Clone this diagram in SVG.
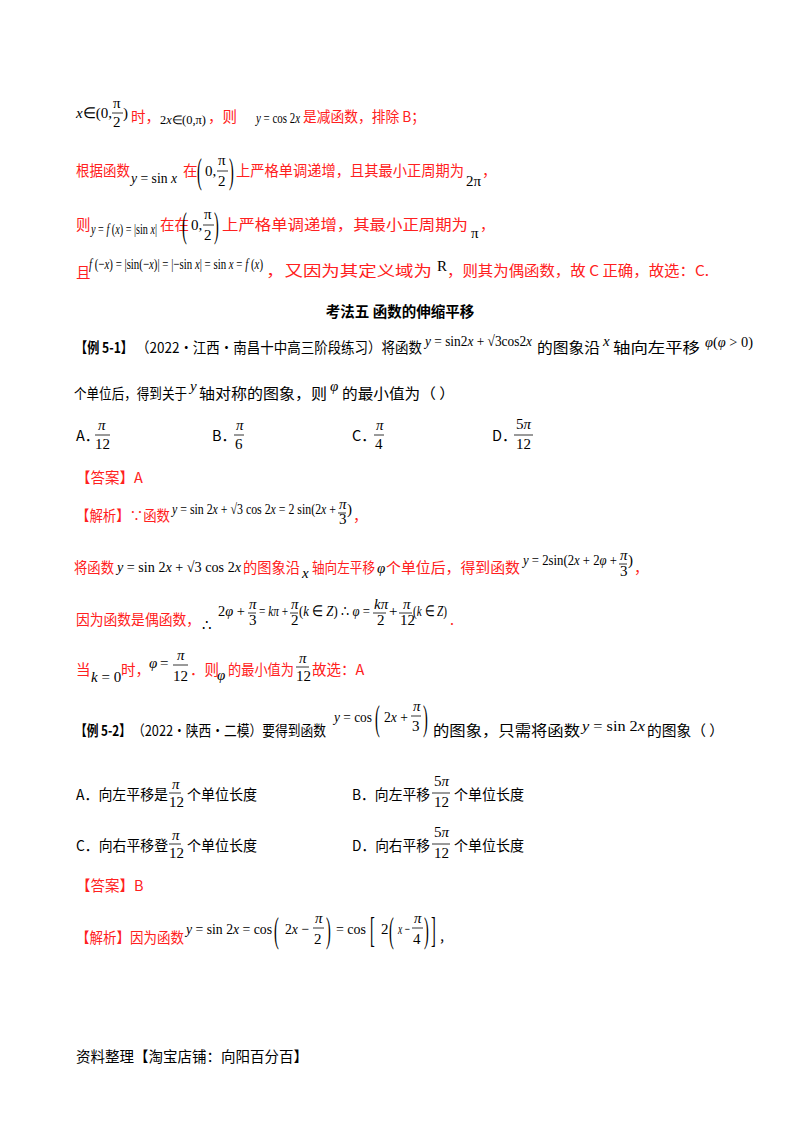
<svg xmlns="http://www.w3.org/2000/svg" width="800" height="1132" viewBox="0 0 800 1132">
<style>
text{font-family:"Noto Sans CJK SC","Liberation Sans",sans-serif;font-size:14.5px}
.r{fill:#ff2020}
.k{fill:#000}
.m{font-family:"Liberation Serif",serif;font-size:15px;fill:#000}
.mi{font-family:"Liberation Serif",serif;font-size:15px;font-style:italic;fill:#000}
.s{font-size:12px}
.b{font-weight:bold}
.p{font-family:"Liberation Serif",serif;font-size:16px;fill:#000}
line{stroke:#000;stroke-width:0.8}
</style>
<rect width="800" height="1132" fill="#fff"/>
<g id="line1">
<text x="76" y="118" class="m"><tspan font-style="italic">x</tspan>∈(0,</text>
<text x="113" y="108" class="m">π</text><line x1="112" y1="113" x2="123" y2="113"/><text x="113" y="127" class="m">2</text>
<text x="123" y="118" class="m">)</text>
<text x="131" y="122" class="r">时，</text>
<text x="160" y="124" class="m s" textLength="46" lengthAdjust="spacingAndGlyphs">2<tspan font-style="italic">x</tspan>∈(0,π)</text>
<text x="208" y="122" class="r">，则</text>
<text x="256" y="123" class="m" textLength="44" lengthAdjust="spacingAndGlyphs"><tspan font-style="italic">y</tspan> = cos 2<tspan font-style="italic">x</tspan></text>
<text x="303" y="122" class="r" textLength="122" lengthAdjust="spacingAndGlyphs">是减函数，排除 B；</text>
</g>
<g id="line2">
<text x="76" y="176" class="r" textLength="54" lengthAdjust="spacingAndGlyphs">根据函数</text>
<text x="131" y="183" class="m" textLength="46" lengthAdjust="spacingAndGlyphs"><tspan font-style="italic">y</tspan> = sin <tspan font-style="italic">x</tspan></text>
<text x="183" y="176" class="r">在</text>
<text class="p" transform="translate(197,183) scale(0.9,2.2)">(</text>
<text x="205" y="176" class="m">0,</text>
<text x="218" y="165" class="m">π</text><line x1="217" y1="171" x2="228" y2="171"/><text x="218" y="186" class="m">2</text>
<text class="p" transform="translate(229,183) scale(0.9,2.2)">)</text>
<text x="236" y="176" class="r" textLength="228" lengthAdjust="spacingAndGlyphs">上严格单调递增，且其最小正周期为</text>
<text x="466" y="186" class="m">2π</text>
<text x="482" y="176" class="r">，</text>
</g>
<g id="line3">
<text x="76" y="230" class="r">则</text>
<text x="91" y="234" class="m" textLength="66" lengthAdjust="spacingAndGlyphs"><tspan font-style="italic">y</tspan> = <tspan font-style="italic">f</tspan> (<tspan font-style="italic">x</tspan>) = |sin <tspan font-style="italic">x</tspan>|</text>
<text x="160" y="230" class="r" textLength="29" lengthAdjust="spacingAndGlyphs">在在</text>
<text class="p" transform="translate(182,237) scale(0.9,2.2)">(</text>
<text x="191" y="230" class="m">0,</text>
<text x="204" y="219" class="m">π</text><line x1="203" y1="225" x2="214" y2="225"/><text x="204" y="240" class="m">2</text>
<text class="p" transform="translate(214,237) scale(0.9,2.2)">)</text>
<text x="222" y="230" class="r" textLength="246" lengthAdjust="spacingAndGlyphs">上严格单调递增，其最小正周期为</text>
<text x="471" y="238" class="m">π</text>
<text x="480" y="230" class="r">，</text>
</g>
<g id="line4">
<text x="76" y="278" class="r">且</text>
<text x="89" y="269" class="m" textLength="174" lengthAdjust="spacingAndGlyphs"><tspan font-style="italic">f</tspan> (−<tspan font-style="italic">x</tspan>) = |sin(−<tspan font-style="italic">x</tspan>)| = |−sin <tspan font-style="italic">x</tspan>| = sin <tspan font-style="italic">x</tspan> = <tspan font-style="italic">f</tspan> (<tspan font-style="italic">x</tspan>)</text>
<text x="266" y="276" class="r" textLength="166" lengthAdjust="spacingAndGlyphs">，又因为其定义域为</text>
<text x="437" y="271" class="m">R</text>
<text x="447" y="276" class="r" textLength="262" lengthAdjust="spacingAndGlyphs">，则其为偶函数，故 C 正确，故选：C.</text>
</g>
<text x="400" y="317" class="k b" text-anchor="middle">考法五  函数的伸缩平移</text>
<g id="ex51">
<text x="75" y="353" class="k b" textLength="58" lengthAdjust="spacingAndGlyphs">【例 5-1】</text>
<text x="136" y="353" class="k" textLength="286" lengthAdjust="spacingAndGlyphs">（2022·江西·南昌十中高三阶段练习）将函数</text>
<text x="425" y="346" class="m" textLength="107" lengthAdjust="spacingAndGlyphs"><tspan font-style="italic">y</tspan> = sin2<tspan font-style="italic">x</tspan> + √3cos2<tspan font-style="italic">x</tspan></text>
<text x="537" y="353" class="k" textLength="63" lengthAdjust="spacingAndGlyphs">的图象沿</text>
<text x="603" y="346" class="mi">x</text>
<text x="613" y="353" class="k" textLength="87" lengthAdjust="spacingAndGlyphs">轴向左平移</text>
<text x="705" y="347" class="m" textLength="48" lengthAdjust="spacingAndGlyphs"><tspan font-style="italic">φ</tspan>(<tspan font-style="italic">φ</tspan> &gt; 0)</text>
<text x="74" y="399" class="k" textLength="113" lengthAdjust="spacingAndGlyphs">个单位后，得到关于</text>
<text x="190" y="391" class="mi">y</text>
<text x="199" y="399" class="k" textLength="128" lengthAdjust="spacingAndGlyphs">轴对称的图象，则</text>
<text x="330" y="391" class="mi">φ</text>
<text x="342" y="399" class="k" textLength="113" lengthAdjust="spacingAndGlyphs">的最小值为（      ）</text>
<text x="76" y="441" class="k">A．</text>
<text x="98" y="430" class="mi">π</text><line x1="95" y1="435" x2="110" y2="435"/><text x="95" y="449" class="m">12</text>
<text x="212" y="441" class="k">B．</text>
<text x="236" y="430" class="mi">π</text><line x1="234" y1="435" x2="244" y2="435"/><text x="235" y="449" class="m">6</text>
<text x="352" y="441" class="k">C．</text>
<text x="376" y="430" class="mi">π</text><line x1="374" y1="435" x2="384" y2="435"/><text x="375" y="449" class="m">4</text>
<text x="492" y="441" class="k">D．</text>
<text x="516" y="429" class="m">5<tspan font-style="italic">π</tspan></text><line x1="514" y1="435" x2="533" y2="435"/><text x="516" y="449" class="m">12</text>
<text x="76" y="483" class="r">【答案】A</text>
<text x="76" y="521" class="r" textLength="94" lengthAdjust="spacingAndGlyphs">【解析】∵函数</text>
<text x="172" y="514" class="m" font-size="13" textLength="164" lengthAdjust="spacingAndGlyphs"><tspan font-style="italic">y</tspan> = sin 2<tspan font-style="italic">x</tspan> + √3 cos 2<tspan font-style="italic">x</tspan> = 2 sin(2<tspan font-style="italic">x</tspan> + </text>
<text x="339" y="509" class="mi" font-size="12">π</text><line x1="338" y1="513" x2="346" y2="513"/><text x="339" y="524" class="m" font-size="12">3</text>
<text x="347" y="514" class="m" font-size="13">)</text>
<text x="353" y="521" class="r">，</text>
<text x="74" y="573" class="r" textLength="40" lengthAdjust="spacingAndGlyphs">将函数</text>
<text x="117" y="572" class="m" textLength="124" lengthAdjust="spacingAndGlyphs"><tspan font-style="italic">y</tspan> = sin 2<tspan font-style="italic">x</tspan> + √3 cos 2<tspan font-style="italic">x</tspan></text>
<text x="243" y="573" class="r" textLength="57" lengthAdjust="spacingAndGlyphs">的图象沿</text>
<text x="302" y="578" class="mi">x</text>
<text x="312" y="573" class="r" textLength="63" lengthAdjust="spacingAndGlyphs">轴向左平移</text>
<text x="377" y="573" class="mi">φ</text>
<text x="386" y="573" class="r" textLength="134" lengthAdjust="spacingAndGlyphs">个单位后，得到函数</text>
<text x="523" y="565" class="m" font-size="13" textLength="94" lengthAdjust="spacingAndGlyphs"><tspan font-style="italic">y</tspan> = 2sin(2<tspan font-style="italic">x</tspan> + 2<tspan font-style="italic">φ</tspan> + </text>
<text x="620" y="560" class="mi" font-size="12">π</text><line x1="619" y1="564" x2="627" y2="564"/><text x="620" y="576" class="m" font-size="12">3</text>
<text x="628" y="565" class="m" font-size="13">)</text>
<text x="634" y="573" class="r">，</text>
<text x="76" y="625" class="r" textLength="124" lengthAdjust="spacingAndGlyphs">因为函数是偶函数，</text>
<text x="202" y="630" class="m">∴</text>
<text x="218" y="616" class="m" font-size="13" textLength="27" lengthAdjust="spacingAndGlyphs">2<tspan font-style="italic">φ</tspan> + </text>
<text x="249" y="609" class="mi" font-size="12">π</text><line x1="248" y1="613" x2="256" y2="613"/><text x="249" y="625" class="m" font-size="12">3</text>
<text x="259" y="616" class="m" font-size="13" textLength="29" lengthAdjust="spacingAndGlyphs">= <tspan font-style="italic">kπ</tspan> + </text>
<text x="291" y="609" class="mi" font-size="12">π</text><line x1="290" y1="613" x2="298" y2="613"/><text x="291" y="625" class="m" font-size="12">2</text>
<text x="299" y="616" class="m" font-size="13" textLength="71" lengthAdjust="spacingAndGlyphs">(<tspan font-style="italic">k</tspan> ∈ <tspan font-style="italic">Z</tspan>) ∴ <tspan font-style="italic">φ</tspan> = </text>
<text x="374" y="609" class="mi" font-size="12">kπ</text><line x1="373" y1="613" x2="386" y2="613"/><text x="377" y="625" class="m" font-size="12">2</text>
<text x="389" y="616" class="m" font-size="13">+</text>
<text x="403" y="609" class="mi" font-size="12">π</text><line x1="399" y1="613" x2="412" y2="613"/><text x="400" y="625" class="m" font-size="12">12</text>
<text x="413" y="616" class="m" font-size="13" textLength="34" lengthAdjust="spacingAndGlyphs">(<tspan font-style="italic">k</tspan> ∈ <tspan font-style="italic">Z</tspan>)</text>
<text x="450" y="625" class="r">.</text>
<text x="76" y="675" class="r">当</text>
<text x="91" y="682" class="m"><tspan font-style="italic">k</tspan> = 0</text>
<text x="121" y="675" class="r">时，</text>
<text x="149" y="668" class="mi">φ</text><text x="160" y="668" class="m">=</text>
<text x="177" y="660" class="mi">π</text><line x1="173" y1="665" x2="188" y2="665"/><text x="173" y="681" class="m">12</text>
<text x="190" y="675" class="r">．则</text>
<text x="217" y="680" class="mi">φ</text>
<text x="228" y="675" class="r" textLength="66" lengthAdjust="spacingAndGlyphs">的最小值为</text>
<text x="299" y="663" class="mi" font-size="13">π</text><line x1="296" y1="667" x2="309" y2="667"/><text x="296" y="681" class="m" font-size="13">12</text>
<text x="312" y="675" class="r">故选：A</text>
</g>
<g id="ex52">
<text x="75" y="736" class="k b" textLength="56" lengthAdjust="spacingAndGlyphs">【例 5-2】</text>
<text x="132" y="736" class="k" textLength="194" lengthAdjust="spacingAndGlyphs">（2022·陕西·二模）要得到函数</text>
<text x="334" y="722" class="m" textLength="38" lengthAdjust="spacingAndGlyphs"><tspan font-style="italic">y</tspan> = cos</text>
<text class="p" transform="translate(375,730) scale(0.9,2.2)">(</text>
<text x="384" y="722" class="m" textLength="24" lengthAdjust="spacingAndGlyphs">2<tspan font-style="italic">x</tspan> +</text>
<text x="413" y="711" class="mi">π</text><line x1="411" y1="716" x2="421" y2="716"/><text x="412" y="731" class="m">3</text>
<text class="p" transform="translate(423,730) scale(0.9,2.2)">)</text>
<text x="433" y="736" class="k" textLength="147" lengthAdjust="spacingAndGlyphs">的图象，只需将函数</text>
<text x="582" y="731" class="m" textLength="63" lengthAdjust="spacingAndGlyphs"><tspan font-style="italic">y</tspan> = sin 2<tspan font-style="italic">x</tspan></text>
<text x="647" y="736" class="k" textLength="77" lengthAdjust="spacingAndGlyphs">的图象（      ）</text>
<text x="76" y="800" class="k" textLength="92" lengthAdjust="spacingAndGlyphs">A．向左平移是</text>
<text x="172" y="789" class="mi" font-size="13">π</text><line x1="169" y1="793" x2="181" y2="793"/><text x="169" y="807" class="m" font-size="13">12</text>
<text x="187" y="800" class="k" textLength="70" lengthAdjust="spacingAndGlyphs">个单位长度</text>
<text x="352" y="800" class="k" textLength="78" lengthAdjust="spacingAndGlyphs">B．向左平移</text>
<text x="434" y="786" class="m" font-size="13">5<tspan font-style="italic">π</tspan></text><line x1="432" y1="793" x2="450" y2="793"/><text x="434" y="807" class="m" font-size="13">12</text>
<text x="454" y="800" class="k" textLength="70" lengthAdjust="spacingAndGlyphs">个单位长度</text>
<text x="76" y="851" class="k" textLength="92" lengthAdjust="spacingAndGlyphs">C．向右平移登</text>
<text x="172" y="840" class="mi" font-size="13">π</text><line x1="169" y1="844" x2="181" y2="844"/><text x="169" y="858" class="m" font-size="13">12</text>
<text x="187" y="851" class="k" textLength="70" lengthAdjust="spacingAndGlyphs">个单位长度</text>
<text x="352" y="851" class="k" textLength="78" lengthAdjust="spacingAndGlyphs">D．向右平移</text>
<text x="434" y="837" class="m" font-size="13">5<tspan font-style="italic">π</tspan></text><line x1="432" y1="844" x2="450" y2="844"/><text x="434" y="858" class="m" font-size="13">12</text>
<text x="454" y="851" class="k" textLength="70" lengthAdjust="spacingAndGlyphs">个单位长度</text>
<text x="76" y="891" class="r">【答案】B</text>
<text x="76" y="943" class="r" textLength="108" lengthAdjust="spacingAndGlyphs">【解析】因为函数</text>
<text x="186" y="934" class="m" textLength="86" lengthAdjust="spacingAndGlyphs"><tspan font-style="italic">y</tspan> = sin 2<tspan font-style="italic">x</tspan> = cos</text>
<text class="p" transform="translate(274,942) scale(0.9,2.2)">(</text>
<text x="285" y="934" class="m" textLength="24" lengthAdjust="spacingAndGlyphs">2<tspan font-style="italic">x</tspan> −</text>
<text x="315" y="923" class="mi">π</text><line x1="313" y1="928" x2="324" y2="928"/><text x="314" y="944" class="m">2</text>
<text class="p" transform="translate(326,942) scale(0.9,2.2)">)</text>
<text x="336" y="934" class="m" textLength="30" lengthAdjust="spacingAndGlyphs">= cos</text>
<text class="p" transform="translate(370,942) scale(0.9,2.2)">[</text>
<text x="381" y="934" class="m">2</text>
<text class="p" transform="translate(389,942) scale(0.9,2.2)">(</text>
<text x="398" y="934" class="m" textLength="12" lengthAdjust="spacingAndGlyphs"><tspan font-style="italic">x</tspan> −</text>
<text x="414" y="923" class="mi">π</text><line x1="412" y1="928" x2="423" y2="928"/><text x="413" y="944" class="m">4</text>
<text class="p" transform="translate(424,942) scale(0.9,2.2)">)</text>
<text class="p" transform="translate(431,942) scale(0.9,2.2)">]</text>
<text x="440" y="941" class="k">,</text>
</g>
<text x="76" y="1062" class="k" font-size="12">资料整理【淘宝店铺：向阳百分百】</text>
</svg>
